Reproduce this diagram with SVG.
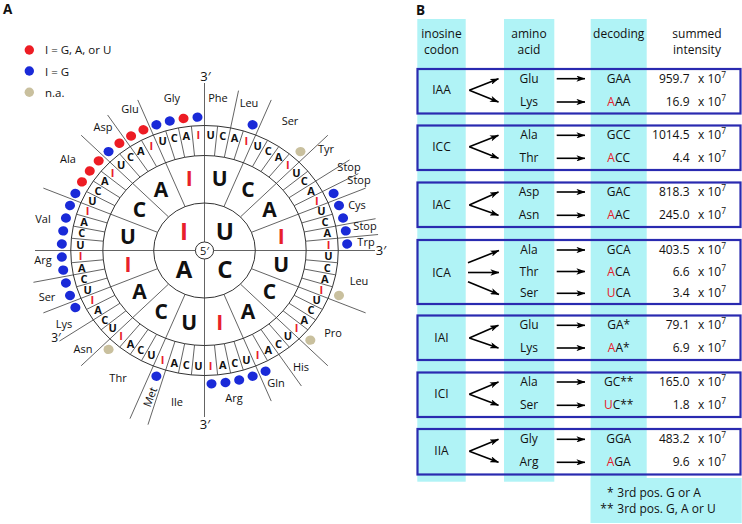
<svg xmlns="http://www.w3.org/2000/svg" width="742" height="524" viewBox="0 0 742 524">
<style>
text{font-family:'Open Sans','Noto Sans','DejaVu Sans',sans-serif;fill:#111}
.ln{stroke:#3c3c3c;stroke-width:0.8;fill:none;vector-effect:non-scaling-stroke}
.ring{stroke:#333;stroke-width:1;fill:none;vector-effect:non-scaling-stroke}
.o{font-size:11px;font-weight:700;text-anchor:middle}
.s{font-size:21px;font-weight:700;text-anchor:middle}
.c{font-size:24px;font-weight:700;text-anchor:middle}
.r{fill:#e8202a}
.aa{font-size:11px;text-anchor:middle}
.p{font-size:13px;text-anchor:middle}
.t{font-size:12px;text-anchor:middle}
.v{font-size:12px;text-anchor:end}
.x{font-size:12px}
.sup{font-size:8.5px}
.lg{font-size:11.5px}
.lab{font-size:13.5px;font-weight:700}
.col{fill:#b0f3f6}
.box{fill:none;stroke:#2a2ab0;stroke-width:2.2}
.ar{stroke:#000;stroke-width:1.6;fill:none;marker-end:url(#ah)}
.dr{fill:#ed1c24}.db{fill:#1a2ad8}.dt{fill:#c9c09e}
</style>
<defs>
<marker id="ah" viewBox="0 0 10 7" refX="9.5" refY="3.5" markerWidth="9" markerHeight="6.3" orient="auto" markerUnits="userSpaceOnUse"><path d="M0,0 L10,3.5 L0,7 L2.5,3.5 z" fill="#000"/></marker>
<line id="L1" class="ln" y1="-47.5" y2="-163"/>
<line id="L1m" class="ln" y1="-47.5" y2="-182"/>
<line id="L2" class="ln" y1="-95" y2="-163"/>
<line id="L2m" class="ln" y1="-95" y2="-182"/>
<line id="L3" class="ln" y1="-95" y2="-125"/>
</defs>

<text class="lab" x="3" y="14">A</text>
<text class="lab" x="416" y="15">B</text>

<g id="legend">
<circle class="dr" cx="29.3" cy="50" r="4.7"/>
<text class="lg" x="45" y="53.5">I = G, A, or U</text>
<circle class="db" cx="29.3" cy="71" r="4.7"/>
<text class="lg" x="45" y="75.5">I = G</text>
<circle class="dt" cx="29.3" cy="92.3" r="4.7"/>
<text class="lg" x="45" y="96.5">n.a.</text>
</g>

<g id="connectors">
<line class="ln" x1="35" y1="250.5" x2="375" y2="250.5"/>
<line class="ln" x1="204.5" y1="83" x2="204.5" y2="417"/>
<g transform="translate(204.5 250.5) scale(1.07 1)">
<use href="#L1" transform="rotate(22.5)"/><use href="#L1" transform="rotate(45)"/><use href="#L1" transform="rotate(67.5)"/>
<use href="#L1" transform="rotate(112.5)"/><use href="#L1" transform="rotate(135)"/><use href="#L1" transform="rotate(157.5)"/>
<use href="#L1m" transform="rotate(202.5)"/><use href="#L1" transform="rotate(225)"/><use href="#L1" transform="rotate(247.5)"/>
<use href="#L1" transform="rotate(292.5)"/><use href="#L1" transform="rotate(315)"/><use href="#L1" transform="rotate(337.5)"/>
<use href="#L2" transform="rotate(11.25)"/><use href="#L2" transform="rotate(56.25)"/><use href="#L2" transform="rotate(61.875)"/>
<use href="#L2" transform="rotate(78.75)"/><use href="#L2" transform="rotate(84.375)"/><use href="#L2" transform="rotate(146.25)"/>
<use href="#L2m" transform="rotate(196.875)"/><use href="#L2" transform="rotate(236.25)"/><use href="#L2" transform="rotate(258.75)"/>
<use href="#L2" transform="rotate(326.25)"/>
<use href="#L3" transform="rotate(5.625)"/><use href="#L3" transform="rotate(16.875)"/><use href="#L3" transform="rotate(28.125)"/><use href="#L3" transform="rotate(33.75)"/><use href="#L3" transform="rotate(39.375)"/><use href="#L3" transform="rotate(50.625)"/><use href="#L3" transform="rotate(73.125)"/>
<use href="#L3" transform="rotate(95.625)"/><use href="#L3" transform="rotate(101.25)"/><use href="#L3" transform="rotate(106.875)"/><use href="#L3" transform="rotate(118.125)"/><use href="#L3" transform="rotate(123.75)"/><use href="#L3" transform="rotate(129.375)"/><use href="#L3" transform="rotate(140.625)"/><use href="#L3" transform="rotate(151.875)"/><use href="#L3" transform="rotate(163.125)"/><use href="#L3" transform="rotate(168.75)"/><use href="#L3" transform="rotate(174.375)"/>
<use href="#L3" transform="rotate(185.625)"/><use href="#L3" transform="rotate(191.25)"/><use href="#L3" transform="rotate(208.125)"/><use href="#L3" transform="rotate(213.75)"/><use href="#L3" transform="rotate(219.375)"/><use href="#L3" transform="rotate(230.625)"/><use href="#L3" transform="rotate(241.875)"/><use href="#L3" transform="rotate(253.125)"/><use href="#L3" transform="rotate(264.375)"/>
<use href="#L3" transform="rotate(275.625)"/><use href="#L3" transform="rotate(281.25)"/><use href="#L3" transform="rotate(286.875)"/><use href="#L3" transform="rotate(298.125)"/><use href="#L3" transform="rotate(303.75)"/><use href="#L3" transform="rotate(309.375)"/><use href="#L3" transform="rotate(320.625)"/><use href="#L3" transform="rotate(331.875)"/><use href="#L3" transform="rotate(343.125)"/><use href="#L3" transform="rotate(348.75)"/><use href="#L3" transform="rotate(354.375)"/>
<ellipse class="ring" rx="47.5" ry="47.5"/>
<ellipse class="ring" rx="95" ry="95"/>
<ellipse class="ring" rx="125" ry="125"/>
<circle r="8.5" fill="#fff" stroke="#333" stroke-width="1" vector-effect="non-scaling-stroke"/>
</g>
</g>

<g id="wheel" transform="translate(204.5 250.5) scale(1.07 1)">
<g id="first">
<text class="c" transform="rotate(45) translate(0 -27) rotate(-45) scale(.9346 1)" y="8.6">U</text>
<text class="c" transform="rotate(135) translate(0 -27) rotate(-135) scale(.9346 1)" y="8.6">C</text>
<text class="c" transform="rotate(225) translate(0 -27) rotate(-225) scale(.9346 1)" y="8.6">A</text>
<text class="c r" transform="rotate(315) translate(0 -27) rotate(-315) scale(.9346 1)" y="8.6">I</text>
<text class="aa" transform="scale(.9346 1)" y="4" style="font-size:11px">5′</text>
</g>
<g id="second">
<text class="s" transform="rotate(11.25) translate(0 -73) rotate(-11.25) scale(.9346 1)" y="7.5">U</text>
<text class="s" transform="rotate(33.75) translate(0 -73) rotate(-33.75) scale(.9346 1)" y="7.5">C</text>
<text class="s" transform="rotate(56.25) translate(0 -73) rotate(-56.25) scale(.9346 1)" y="7.5">A</text>
<text class="s r" transform="rotate(78.75) translate(0 -73) rotate(-78.75) scale(.9346 1)" y="7.5">I</text>
<text class="s" transform="rotate(101.25) translate(0 -73) rotate(-101.25) scale(.9346 1)" y="7.5">U</text>
<text class="s" transform="rotate(123.75) translate(0 -73) rotate(-123.75) scale(.9346 1)" y="7.5">C</text>
<text class="s" transform="rotate(146.25) translate(0 -73) rotate(-146.25) scale(.9346 1)" y="7.5">A</text>
<text class="s r" transform="rotate(168.75) translate(0 -73) rotate(-168.75) scale(.9346 1)" y="7.5">I</text>
<text class="s" transform="rotate(191.25) translate(0 -73) rotate(-191.25) scale(.9346 1)" y="7.5">U</text>
<text class="s" transform="rotate(213.75) translate(0 -73) rotate(-213.75) scale(.9346 1)" y="7.5">C</text>
<text class="s" transform="rotate(236.25) translate(0 -73) rotate(-236.25) scale(.9346 1)" y="7.5">A</text>
<text class="s r" transform="rotate(258.75) translate(0 -73) rotate(-258.75) scale(.9346 1)" y="7.5">I</text>
<text class="s" transform="rotate(281.25) translate(0 -73) rotate(-281.25) scale(.9346 1)" y="7.5">U</text>
<text class="s" transform="rotate(303.75) translate(0 -73) rotate(-303.75) scale(.9346 1)" y="7.5">C</text>
<text class="s" transform="rotate(326.25) translate(0 -73) rotate(-326.25) scale(.9346 1)" y="7.5">A</text>
<text class="s r" transform="rotate(348.75) translate(0 -73) rotate(-348.75) scale(.9346 1)" y="7.5">I</text>
</g>
<g id="third">
<text class="o" transform="rotate(2.8125) translate(0 -116) rotate(-2.8125) scale(.9346 1)" y="4">U</text>
<text class="o" transform="rotate(8.4375) translate(0 -116) rotate(-8.4375) scale(.9346 1)" y="4">C</text>
<text class="o" transform="rotate(14.0625) translate(0 -116) rotate(-14.0625) scale(.9346 1)" y="4">A</text>
<text class="o r" transform="rotate(19.6875) translate(0 -116) rotate(-19.6875) scale(.9346 1)" y="4">I</text>
<text class="o" transform="rotate(25.3125) translate(0 -116) rotate(-25.3125) scale(.9346 1)" y="4">U</text>
<text class="o" transform="rotate(30.9375) translate(0 -116) rotate(-30.9375) scale(.9346 1)" y="4">C</text>
<text class="o" transform="rotate(36.5625) translate(0 -116) rotate(-36.5625) scale(.9346 1)" y="4">A</text>
<text class="o r" transform="rotate(42.1875) translate(0 -116) rotate(-42.1875) scale(.9346 1)" y="4">I</text>
<text class="o" transform="rotate(47.8125) translate(0 -116) rotate(-47.8125) scale(.9346 1)" y="4">U</text>
<text class="o" transform="rotate(53.4375) translate(0 -116) rotate(-53.4375) scale(.9346 1)" y="4">C</text>
<text class="o" transform="rotate(59.0625) translate(0 -116) rotate(-59.0625) scale(.9346 1)" y="4">A</text>
<text class="o r" transform="rotate(64.6875) translate(0 -116) rotate(-64.6875) scale(.9346 1)" y="4">I</text>
<text class="o" transform="rotate(70.3125) translate(0 -116) rotate(-70.3125) scale(.9346 1)" y="4">U</text>
<text class="o" transform="rotate(75.9375) translate(0 -116) rotate(-75.9375) scale(.9346 1)" y="4">C</text>
<text class="o" transform="rotate(81.5625) translate(0 -116) rotate(-81.5625) scale(.9346 1)" y="4">A</text>
<text class="o r" transform="rotate(87.1875) translate(0 -116) rotate(-87.1875) scale(.9346 1)" y="4">I</text>
<text class="o" transform="rotate(92.8125) translate(0 -116) rotate(-92.8125) scale(.9346 1)" y="4">U</text>
<text class="o" transform="rotate(98.4375) translate(0 -116) rotate(-98.4375) scale(.9346 1)" y="4">C</text>
<text class="o" transform="rotate(104.0625) translate(0 -116) rotate(-104.0625) scale(.9346 1)" y="4">A</text>
<text class="o r" transform="rotate(109.6875) translate(0 -116) rotate(-109.6875) scale(.9346 1)" y="4">I</text>
<text class="o" transform="rotate(115.3125) translate(0 -116) rotate(-115.3125) scale(.9346 1)" y="4">U</text>
<text class="o" transform="rotate(120.9375) translate(0 -116) rotate(-120.9375) scale(.9346 1)" y="4">C</text>
<text class="o" transform="rotate(126.5625) translate(0 -116) rotate(-126.5625) scale(.9346 1)" y="4">A</text>
<text class="o r" transform="rotate(132.1875) translate(0 -116) rotate(-132.1875) scale(.9346 1)" y="4">I</text>
<text class="o" transform="rotate(137.8125) translate(0 -116) rotate(-137.8125) scale(.9346 1)" y="4">U</text>
<text class="o" transform="rotate(143.4375) translate(0 -116) rotate(-143.4375) scale(.9346 1)" y="4">C</text>
<text class="o" transform="rotate(149.0625) translate(0 -116) rotate(-149.0625) scale(.9346 1)" y="4">A</text>
<text class="o r" transform="rotate(154.6875) translate(0 -116) rotate(-154.6875) scale(.9346 1)" y="4">I</text>
<text class="o" transform="rotate(160.3125) translate(0 -116) rotate(-160.3125) scale(.9346 1)" y="4">U</text>
<text class="o" transform="rotate(165.9375) translate(0 -116) rotate(-165.9375) scale(.9346 1)" y="4">C</text>
<text class="o" transform="rotate(171.5625) translate(0 -116) rotate(-171.5625) scale(.9346 1)" y="4">A</text>
<text class="o r" transform="rotate(177.1875) translate(0 -116) rotate(-177.1875) scale(.9346 1)" y="4">I</text>
<text class="o" transform="rotate(182.8125) translate(0 -116) rotate(-182.8125) scale(.9346 1)" y="4">U</text>
<text class="o" transform="rotate(188.4375) translate(0 -116) rotate(-188.4375) scale(.9346 1)" y="4">C</text>
<text class="o" transform="rotate(194.0625) translate(0 -116) rotate(-194.0625) scale(.9346 1)" y="4">A</text>
<text class="o r" transform="rotate(199.6875) translate(0 -116) rotate(-199.6875) scale(.9346 1)" y="4">I</text>
<text class="o" transform="rotate(205.3125) translate(0 -116) rotate(-205.3125) scale(.9346 1)" y="4">U</text>
<text class="o" transform="rotate(210.9375) translate(0 -116) rotate(-210.9375) scale(.9346 1)" y="4">C</text>
<text class="o" transform="rotate(216.5625) translate(0 -116) rotate(-216.5625) scale(.9346 1)" y="4">A</text>
<text class="o r" transform="rotate(222.1875) translate(0 -116) rotate(-222.1875) scale(.9346 1)" y="4">I</text>
<text class="o" transform="rotate(227.8125) translate(0 -116) rotate(-227.8125) scale(.9346 1)" y="4">U</text>
<text class="o" transform="rotate(233.4375) translate(0 -116) rotate(-233.4375) scale(.9346 1)" y="4">C</text>
<text class="o" transform="rotate(239.0625) translate(0 -116) rotate(-239.0625) scale(.9346 1)" y="4">A</text>
<text class="o r" transform="rotate(244.6875) translate(0 -116) rotate(-244.6875) scale(.9346 1)" y="4">I</text>
<text class="o" transform="rotate(250.3125) translate(0 -116) rotate(-250.3125) scale(.9346 1)" y="4">U</text>
<text class="o" transform="rotate(255.9375) translate(0 -116) rotate(-255.9375) scale(.9346 1)" y="4">C</text>
<text class="o" transform="rotate(261.5625) translate(0 -116) rotate(-261.5625) scale(.9346 1)" y="4">A</text>
<text class="o r" transform="rotate(267.1875) translate(0 -116) rotate(-267.1875) scale(.9346 1)" y="4">I</text>
<text class="o" transform="rotate(272.8125) translate(0 -116) rotate(-272.8125) scale(.9346 1)" y="4">U</text>
<text class="o" transform="rotate(278.4375) translate(0 -116) rotate(-278.4375) scale(.9346 1)" y="4">C</text>
<text class="o" transform="rotate(284.0625) translate(0 -116) rotate(-284.0625) scale(.9346 1)" y="4">A</text>
<text class="o r" transform="rotate(289.6875) translate(0 -116) rotate(-289.6875) scale(.9346 1)" y="4">I</text>
<text class="o" transform="rotate(295.3125) translate(0 -116) rotate(-295.3125) scale(.9346 1)" y="4">U</text>
<text class="o" transform="rotate(300.9375) translate(0 -116) rotate(-300.9375) scale(.9346 1)" y="4">C</text>
<text class="o" transform="rotate(306.5625) translate(0 -116) rotate(-306.5625) scale(.9346 1)" y="4">A</text>
<text class="o r" transform="rotate(312.1875) translate(0 -116) rotate(-312.1875) scale(.9346 1)" y="4">I</text>
<text class="o" transform="rotate(317.8125) translate(0 -116) rotate(-317.8125) scale(.9346 1)" y="4">U</text>
<text class="o" transform="rotate(323.4375) translate(0 -116) rotate(-323.4375) scale(.9346 1)" y="4">C</text>
<text class="o" transform="rotate(329.0625) translate(0 -116) rotate(-329.0625) scale(.9346 1)" y="4">A</text>
<text class="o r" transform="rotate(334.6875) translate(0 -116) rotate(-334.6875) scale(.9346 1)" y="4">I</text>
<text class="o" transform="rotate(340.3125) translate(0 -116) rotate(-340.3125) scale(.9346 1)" y="4">U</text>
<text class="o" transform="rotate(345.9375) translate(0 -116) rotate(-345.9375) scale(.9346 1)" y="4">C</text>
<text class="o" transform="rotate(351.5625) translate(0 -116) rotate(-351.5625) scale(.9346 1)" y="4">A</text>
<text class="o r" transform="rotate(357.1875) translate(0 -116) rotate(-357.1875) scale(.9346 1)" y="4">I</text>
</g>
<g id="dots">
<circle class="db" cy="-133.5" r="4.7" transform="rotate(19.6875)"/>
<circle class="dt" cy="-133.5" r="4.7" transform="rotate(42.1875)"/>
<circle class="db" cy="-133.5" r="4.7" transform="rotate(64.6875)"/>
<circle class="db" cy="-133.5" r="4.7" transform="rotate(70.3125)"/>
<circle class="db" cy="-133.5" r="4.7" transform="rotate(75.9375)"/>
<circle class="db" cy="-133.5" r="4.7" transform="rotate(81.5625)"/>
<circle class="db" cy="-133.5" r="4.7" transform="rotate(87.1875)"/>
<circle class="dt" cy="-133.5" r="4.7" transform="rotate(109.6875)"/>
<circle class="dt" cy="-133.5" r="4.7" transform="rotate(132.1875)"/>
<circle class="db" cy="-133.5" r="4.7" transform="rotate(154.6875)"/>
<circle class="db" cy="-133.5" r="4.7" transform="rotate(160.3125)"/>
<circle class="db" cy="-133.5" r="4.7" transform="rotate(165.9375)"/>
<circle class="db" cy="-133.5" r="4.7" transform="rotate(171.5625)"/>
<circle class="db" cy="-133.5" r="4.7" transform="rotate(177.1875)"/>
<circle class="db" cy="-133.5" r="4.7" transform="rotate(199.6875)"/>
<circle class="dt" cy="-133.5" r="4.7" transform="rotate(222.1875)"/>
<circle class="db" cy="-133.5" r="4.7" transform="rotate(244.6875)"/>
<circle class="db" cy="-133.5" r="4.7" transform="rotate(250.3125)"/>
<circle class="db" cy="-133.5" r="4.7" transform="rotate(255.9375)"/>
<circle class="db" cy="-133.5" r="4.7" transform="rotate(261.5625)"/>
<circle class="db" cy="-133.5" r="4.7" transform="rotate(267.1875)"/>
<circle class="db" cy="-133.5" r="4.7" transform="rotate(272.8125)"/>
<circle class="db" cy="-133.5" r="4.7" transform="rotate(278.4375)"/>
<circle class="db" cy="-133.5" r="4.7" transform="rotate(284.0625)"/>
<circle class="db" cy="-133.5" r="4.7" transform="rotate(289.6875)"/>
<circle class="db" cy="-133.5" r="4.7" transform="rotate(295.3125)"/>
<circle class="dr" cy="-133.5" r="4.7" transform="rotate(300.9375)"/>
<circle class="dr" cy="-133.5" r="4.7" transform="rotate(306.5625)"/>
<circle class="dr" cy="-133.5" r="4.7" transform="rotate(312.1875)"/>
<circle class="db" cy="-133.5" r="4.7" transform="rotate(317.8125)"/>
<circle class="dr" cy="-133.5" r="4.7" transform="rotate(323.4375)"/>
<circle class="dr" cy="-133.5" r="4.7" transform="rotate(329.0625)"/>
<circle class="dr" cy="-133.5" r="4.7" transform="rotate(334.6875)"/>
<circle class="db" cy="-133.5" r="4.7" transform="rotate(340.3125)"/>
<circle class="db" cy="-133.5" r="4.7" transform="rotate(345.9375)"/>
<circle class="dr" cy="-133.5" r="4.7" transform="rotate(351.5625)"/>
<circle class="db" cy="-133.5" r="4.7" transform="rotate(357.1875)"/>
</g>
</g>

<g id="wheel-labels">
<text class="p" x="205.5" y="80.5">3′</text>
<text class="p" x="205" y="428.5">3′</text>
<text class="p" x="381" y="255">3′</text>
<text class="aa" x="56" y="342" style="font-size:12px">3′</text>
<text class="aa" x="172" y="102">Gly</text>
<text class="aa" x="218" y="102">Phe</text>
<text class="aa" x="249" y="107">Leu</text>
<text class="aa" x="290" y="125">Ser</text>
<text class="aa" x="326" y="153">Tyr</text>
<text class="aa" x="349" y="171">Stop</text>
<text class="aa" x="359" y="184">Stop</text>
<text class="aa" x="357" y="209">Cys</text>
<text class="aa" x="365" y="230">Stop</text>
<text class="aa" x="366" y="246">Trp</text>
<text class="aa" x="359" y="285">Leu</text>
<text class="aa" x="333" y="337">Pro</text>
<text class="aa" x="301" y="371">His</text>
<text class="aa" x="276" y="387">Gln</text>
<text class="aa" x="234" y="402">Arg</text>
<text class="aa" x="177" y="406">Ile</text>
<text class="aa" transform="translate(150 397) rotate(-69)" y="4">Met</text>
<text class="aa" x="118" y="382">Thr</text>
<text class="aa" x="83" y="353">Asn</text>
<text class="aa" x="64" y="328">Lys</text>
<text class="aa" x="47" y="301">Ser</text>
<text class="aa" x="43" y="264">Arg</text>
<text class="aa" x="43" y="223">Val</text>
<text class="aa" x="68" y="163">Ala</text>
<text class="aa" x="103" y="131">Asp</text>
<text class="aa" x="130" y="113">Glu</text>
</g>

<g id="table-columns">
<rect class="col" x="417.3" y="19" width="48.4" height="462.7"/>
<rect class="col" x="504" y="19" width="50.3" height="462.7"/>
<rect class="col" x="590.7" y="19" width="56" height="504"/>
<rect class="col" x="590.7" y="478" width="151" height="45"/>
</g>

<g id="table-header">
<text class="t" x="441.5" y="38.3">inosine</text>
<text class="t" x="441.5" y="54">codon</text>
<text class="t" x="529" y="38.3">amino</text>
<text class="t" x="529" y="54">acid</text>
<text class="t" x="618.7" y="38.3">decoding</text>
<text class="t" x="697" y="38.3">summed</text>
<text class="t" x="697" y="54">intensity</text>
</g>

<g id="row-IAA">
<rect class="box" x="417.5" y="69" width="323" height="44.5"/>
<text class="t" x="441.5" y="94.3">IAA</text>
<line class="ar" x1="469.3" y1="90.3" x2="498.5" y2="78.7"/>
<line class="ar" x1="469.3" y1="90.3" x2="498.5" y2="102"/>
<text class="t" x="529" y="82.7">Glu</text>
<text class="t" x="529" y="106">Lys</text>
<line class="ar" x1="556.7" y1="78.7" x2="585" y2="78.7"/>
<line class="ar" x1="556.7" y1="102" x2="585" y2="102"/>
<text class="t" x="618.7" y="82.7">GAA</text>
<text class="t" x="618.7" y="106"><tspan class="r">A</tspan>AA</text>
<text class="v" x="689.5" y="82.7">959.7</text>
<text class="x" x="698" y="82.7">x 10<tspan class="sup" dy="-5">7</tspan></text>
<text class="v" x="689.5" y="106">16.9</text>
<text class="x" x="698" y="106">x 10<tspan class="sup" dy="-5">7</tspan></text>
</g>

<g id="row-ICC">
<rect class="box" x="417.5" y="125.5" width="323" height="44.5"/>
<text class="t" x="441.5" y="150.7">ICC</text>
<line class="ar" x1="469.3" y1="146.7" x2="498.5" y2="135.3"/>
<line class="ar" x1="469.3" y1="146.7" x2="498.5" y2="158.3"/>
<text class="t" x="529" y="139.3">Ala</text>
<text class="t" x="529" y="162.3">Thr</text>
<line class="ar" x1="556.7" y1="135.3" x2="585" y2="135.3"/>
<line class="ar" x1="556.7" y1="158.3" x2="585" y2="158.3"/>
<text class="t" x="618.7" y="139.3">GCC</text>
<text class="t" x="618.7" y="162.3"><tspan class="r">A</tspan>CC</text>
<text class="v" x="689.5" y="139.3">1014.5</text>
<text class="x" x="698" y="139.3">x 10<tspan class="sup" dy="-5">7</tspan></text>
<text class="v" x="689.5" y="162.3">4.4</text>
<text class="x" x="698" y="162.3">x 10<tspan class="sup" dy="-5">7</tspan></text>
</g>

<g id="row-IAC">
<rect class="box" x="417.5" y="182.5" width="323" height="44.5"/>
<text class="t" x="441.5" y="209">IAC</text>
<line class="ar" x1="469.3" y1="205" x2="498.5" y2="192"/>
<line class="ar" x1="469.3" y1="205" x2="498.5" y2="215.3"/>
<text class="t" x="529" y="196">Asp</text>
<text class="t" x="529" y="219.3">Asn</text>
<line class="ar" x1="556.7" y1="192" x2="585" y2="192"/>
<line class="ar" x1="556.7" y1="215.3" x2="585" y2="215.3"/>
<text class="t" x="618.7" y="196">GAC</text>
<text class="t" x="618.7" y="219.3"><tspan class="r">A</tspan>AC</text>
<text class="v" x="689.5" y="196">818.3</text>
<text class="x" x="698" y="196">x 10<tspan class="sup" dy="-5">7</tspan></text>
<text class="v" x="689.5" y="219.3">245.0</text>
<text class="x" x="698" y="219.3">x 10<tspan class="sup" dy="-5">7</tspan></text>
</g>

<g id="row-ICA">
<rect class="box" x="417.5" y="240" width="323" height="64"/>
<text class="t" x="441.5" y="276.5">ICA</text>
<line class="ar" x1="468" y1="262.7" x2="499" y2="250.5"/>
<line class="ar" x1="468" y1="272.5" x2="499" y2="272.5"/>
<line class="ar" x1="468" y1="281.7" x2="499" y2="294.5"/>
<text class="t" x="529" y="254">Ala</text>
<text class="t" x="529" y="275.5">Thr</text>
<text class="t" x="529" y="297.3">Ser</text>
<line class="ar" x1="556.7" y1="250" x2="585" y2="250"/>
<line class="ar" x1="556.7" y1="271.5" x2="585" y2="271.5"/>
<line class="ar" x1="556.7" y1="293.3" x2="585" y2="293.3"/>
<text class="t" x="618.7" y="254">GCA</text>
<text class="t" x="618.7" y="275.5"><tspan class="r">A</tspan>CA</text>
<text class="t" x="618.7" y="297.3"><tspan class="r">U</tspan>CA</text>
<text class="v" x="689.5" y="254">403.5</text>
<text class="x" x="698" y="254">x 10<tspan class="sup" dy="-5">7</tspan></text>
<text class="v" x="689.5" y="275.5">6.6</text>
<text class="x" x="698" y="275.5">x 10<tspan class="sup" dy="-5">7</tspan></text>
<text class="v" x="689.5" y="297.3">3.4</text>
<text class="x" x="698" y="297.3">x 10<tspan class="sup" dy="-5">7</tspan></text>
</g>

<g id="row-IAI">
<rect class="box" x="417.5" y="315.5" width="323" height="44.5"/>
<text class="t" x="441.5" y="342">IAI</text>
<line class="ar" x1="469.3" y1="338" x2="498.5" y2="325.3"/>
<line class="ar" x1="469.3" y1="338" x2="498.5" y2="348"/>
<text class="t" x="529" y="329.3">Glu</text>
<text class="t" x="529" y="352">Lys</text>
<line class="ar" x1="556.7" y1="325.3" x2="585" y2="325.3"/>
<line class="ar" x1="556.7" y1="348" x2="585" y2="348"/>
<text class="t" x="618.7" y="329.3">GA*</text>
<text class="t" x="618.7" y="352"><tspan class="r">A</tspan>A*</text>
<text class="v" x="689.5" y="329.3">79.1</text>
<text class="x" x="698" y="329.3">x 10<tspan class="sup" dy="-5">7</tspan></text>
<text class="v" x="689.5" y="352">6.9</text>
<text class="x" x="698" y="352">x 10<tspan class="sup" dy="-5">7</tspan></text>
</g>

<g id="row-ICI">
<rect class="box" x="417.5" y="372.5" width="323" height="44.5"/>
<text class="t" x="441.5" y="398.3">ICI</text>
<line class="ar" x1="469.3" y1="394.3" x2="498.5" y2="382"/>
<line class="ar" x1="469.3" y1="394.3" x2="498.5" y2="405.3"/>
<text class="t" x="529" y="386">Ala</text>
<text class="t" x="529" y="409.3">Ser</text>
<line class="ar" x1="556.7" y1="382" x2="585" y2="382"/>
<line class="ar" x1="556.7" y1="405.3" x2="585" y2="405.3"/>
<text class="t" x="618.7" y="386">GC**</text>
<text class="t" x="618.7" y="409.3"><tspan class="r">U</tspan>C**</text>
<text class="v" x="689.5" y="386">165.0</text>
<text class="x" x="698" y="386">x 10<tspan class="sup" dy="-5">7</tspan></text>
<text class="v" x="689.5" y="409.3">1.8</text>
<text class="x" x="698" y="409.3">x 10<tspan class="sup" dy="-5">7</tspan></text>
</g>

<g id="row-IIA">
<rect class="box" x="417.5" y="429" width="323" height="45.5"/>
<text class="t" x="441.5" y="455.3">IIA</text>
<line class="ar" x1="469.3" y1="451.3" x2="498.5" y2="439.3"/>
<line class="ar" x1="469.3" y1="451.3" x2="498.5" y2="462.3"/>
<text class="t" x="529" y="443.3">Gly</text>
<text class="t" x="529" y="466.3">Arg</text>
<line class="ar" x1="556.7" y1="439.3" x2="585" y2="439.3"/>
<line class="ar" x1="556.7" y1="462.3" x2="585" y2="462.3"/>
<text class="t" x="618.7" y="443.3">GGA</text>
<text class="t" x="618.7" y="466.3"><tspan class="r">A</tspan>GA</text>
<text class="v" x="689.5" y="443.3">483.2</text>
<text class="x" x="698" y="443.3">x 10<tspan class="sup" dy="-5">7</tspan></text>
<text class="v" x="689.5" y="466.3">9.6</text>
<text class="x" x="698" y="466.3">x 10<tspan class="sup" dy="-5">7</tspan></text>
</g>

<g id="footnote">
<text class="v" x="613.5" y="496.7">*</text>
<text class="x" x="617.3" y="496.7">3rd pos. G or A</text>
<text class="v" x="613.5" y="512.7">**</text>
<text class="x" x="617.3" y="512.7">3rd pos. G, A or U</text>
</g>
</svg>
